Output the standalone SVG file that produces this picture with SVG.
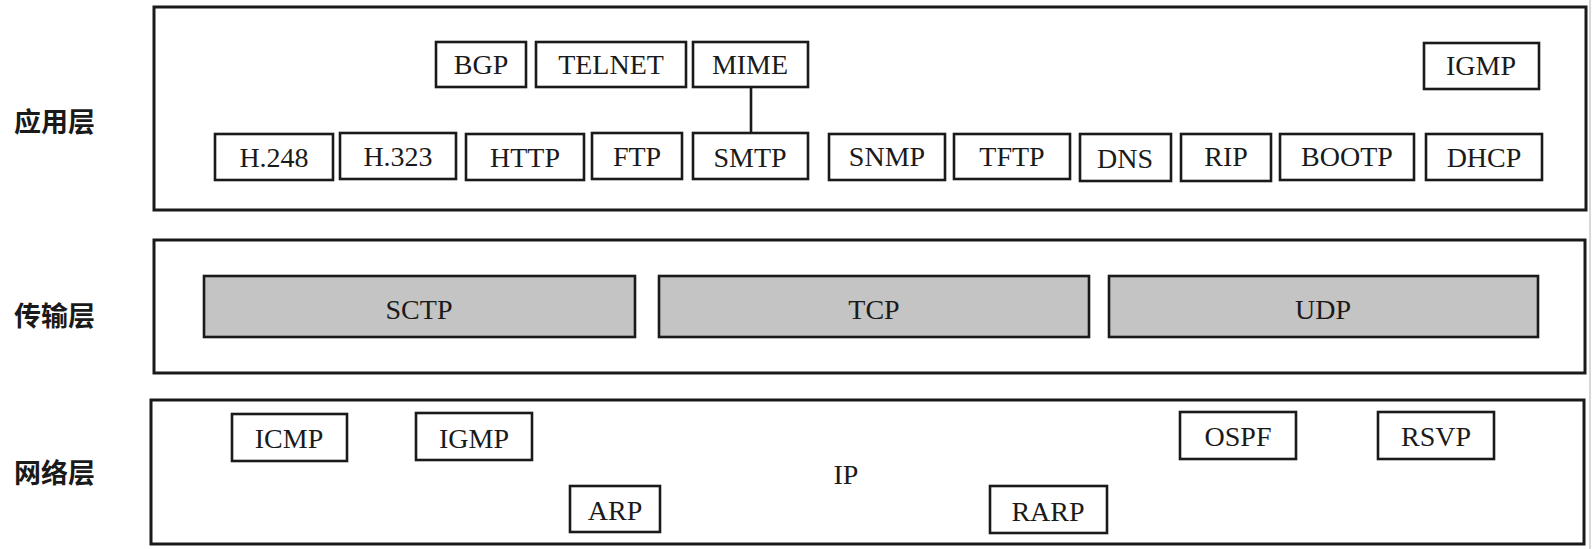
<svg xmlns="http://www.w3.org/2000/svg" width="1592" height="549" viewBox="0 0 1592 549">
<style>
.layer{fill:#fff;stroke:#1a1a1a;stroke-width:3}
.box{fill:#fff;stroke:#1a1a1a;stroke-width:2.6}
.gbox{fill:#c4c4c4;stroke:#1a1a1a;stroke-width:2.6}
.t{font-family:"Liberation Serif","Times New Roman",serif;font-size:28px;fill:#1a1a1a;text-anchor:middle}
.lbl{font-family:"Noto Sans CJK SC","Noto Sans",sans-serif;font-size:27px;font-weight:bold;fill:#1a1a1a}
.conn{stroke:#1a1a1a;stroke-width:2.6;fill:none}
</style>
<rect x="0" y="0" width="1592" height="549" fill="#fff"/>
<line x1="1590" y1="0" x2="1590" y2="549" stroke="#d8d8d8" stroke-width="2"/>

<g id="labels">
<text class="lbl" x="14" y="132">应用层</text>
<text class="lbl" x="14" y="326">传输层</text>
<text class="lbl" x="14" y="483">网络层</text>
</g>

<g id="app-layer"><rect class="layer" x="154" y="7" width="1432" height="203"/></g>
<g id="transport-layer"><rect class="layer" x="154" y="240" width="1431" height="133"/></g>
<g id="network-layer"><rect class="layer" x="151" y="400" width="1433" height="144"/></g>

<g id="connectors">
<line class="conn" x1="751" y1="87" x2="751" y2="134"/>
</g>

<g id="BGP"><rect class="box" x="436" y="42" width="90" height="45"/><text class="t" x="481" y="74">BGP</text></g>
<g id="TELNET"><rect class="box" x="536" y="42" width="150" height="45"/><text class="t" x="611" y="74">TELNET</text></g>
<g id="MIME"><rect class="box" x="693" y="42" width="115" height="45"/><text class="t" x="750" y="74">MIME</text></g>
<g id="IGMP-app"><rect class="box" x="1424" y="43" width="115" height="46"/><text class="t" x="1481" y="75">IGMP</text></g>

<g id="H248"><rect class="box" x="215" y="134" width="118" height="46"/><text class="t" x="274" y="167">H.248</text></g>
<g id="H323"><rect class="box" x="340" y="133" width="116" height="46"/><text class="t" x="398" y="166">H.323</text></g>
<g id="HTTP"><rect class="box" x="466" y="134" width="118" height="46"/><text class="t" x="525" y="167">HTTP</text></g>
<g id="FTP"><rect class="box" x="592" y="133" width="90" height="46"/><text class="t" x="637" y="166">FTP</text></g>
<g id="SMTP"><rect class="box" x="693" y="133" width="115" height="46"/><text class="t" x="750" y="167">SMTP</text></g>
<g id="SNMP"><rect class="box" x="829" y="134" width="116" height="46"/><text class="t" x="887" y="166">SNMP</text></g>
<g id="TFTP"><rect class="box" x="954" y="134" width="116" height="45"/><text class="t" x="1012" y="166">TFTP</text></g>
<g id="DNS"><rect class="box" x="1080" y="134" width="91" height="47"/><text class="t" x="1125" y="168">DNS</text></g>
<g id="RIP"><rect class="box" x="1181" y="134" width="90" height="47"/><text class="t" x="1226" y="166">RIP</text></g>
<g id="BOOTP"><rect class="box" x="1280" y="134" width="134" height="46"/><text class="t" x="1347" y="166">BOOTP</text></g>
<g id="DHCP"><rect class="box" x="1426" y="134" width="116" height="46"/><text class="t" x="1484" y="167">DHCP</text></g>

<g id="SCTP"><rect class="gbox" x="204" y="276" width="431" height="61"/><text class="t" x="419" y="319">SCTP</text></g>
<g id="TCP"><rect class="gbox" x="659" y="276" width="430" height="61"/><text class="t" x="874" y="319">TCP</text></g>
<g id="UDP"><rect class="gbox" x="1109" y="276" width="429" height="61"/><text class="t" x="1323" y="319">UDP</text></g>

<g id="ICMP"><rect class="box" x="232" y="414" width="115" height="47"/><text class="t" x="289" y="448">ICMP</text></g>
<g id="IGMP-net"><rect class="box" x="416" y="413" width="116" height="47"/><text class="t" x="474" y="448">IGMP</text></g>
<g id="ARP"><rect class="box" x="570" y="486" width="90" height="46"/><text class="t" x="615" y="520">ARP</text></g>
<g id="IP"><text class="t" x="846" y="484">IP</text></g>
<g id="RARP"><rect class="box" x="990" y="486" width="117" height="47"/><text class="t" x="1048" y="521">RARP</text></g>
<g id="OSPF"><rect class="box" x="1180" y="412" width="116" height="47"/><text class="t" x="1238" y="446">OSPF</text></g>
<g id="RSVP"><rect class="box" x="1378" y="412" width="116" height="47"/><text class="t" x="1436" y="446">RSVP</text></g>
</svg>
